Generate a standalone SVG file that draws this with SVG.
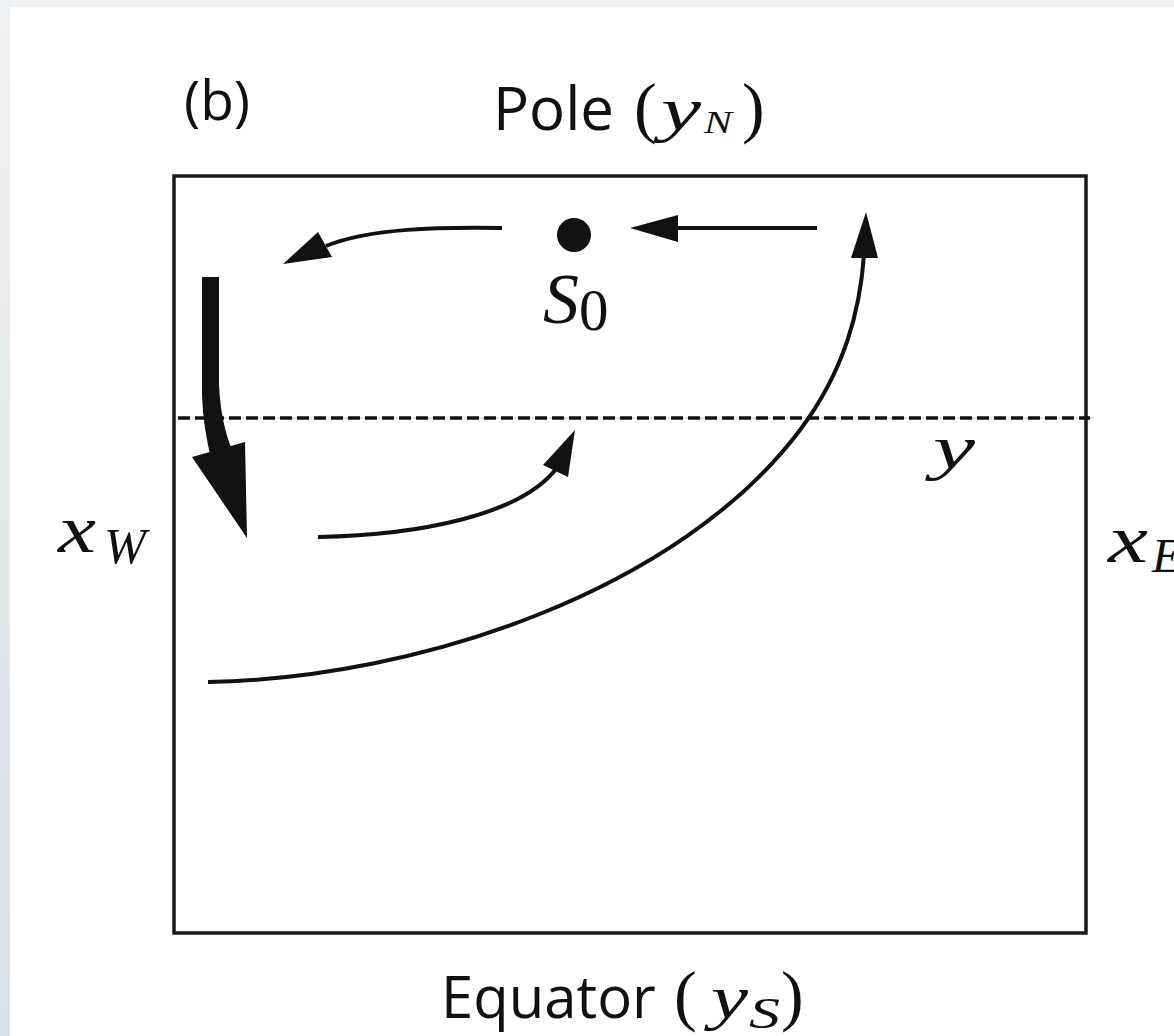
<svg xmlns="http://www.w3.org/2000/svg" width="1174" height="1036" viewBox="0 0 1174 1036">
  <defs>
    <linearGradient id="leftband" x1="0" y1="0" x2="0" y2="1">
      <stop offset="0" stop-color="#edf1f4"/>
      <stop offset="1" stop-color="#d6e1e6"/>
    </linearGradient>
    <style>
      .sans { font-family: "Open Sans", "Noto Sans", "Liberation Sans", sans-serif; fill: #111; }
      .math { font-family: "Liberation Serif", "DejaVu Serif", serif; font-style: italic; fill: #111; }
      .up { font-family: "Liberation Serif", "DejaVu Serif", serif; fill: #111; }
      .thin { fill: none; stroke: #111; stroke-width: 4; stroke-linecap: butt; }
      .head { fill: #111; stroke: none; }
    </style>
  </defs>

  <rect x="0" y="0" width="1174" height="1036" fill="#ffffff"/>
  <rect x="0" y="0" width="1174" height="7" fill="#eef2f5"/>
  <rect x="0" y="0" width="10" height="1036" fill="url(#leftband)"/>

  <g id="frame">
    <rect x="174" y="176" width="912" height="757" fill="none" stroke="#1a1a1a" stroke-width="3.5"/>
    <line x1="176" y1="418" x2="1094" y2="418" stroke="#c8c8c8" stroke-width="1"/>
    <line x1="178" y1="418" x2="1090" y2="418" stroke="#111" stroke-width="3.5" stroke-dasharray="12 5"/>
  </g>

  <g id="label-b"><text class="sans" x="184" y="120" font-size="55">(b)</text></g>

  <g id="label-pole">
    <text class="sans" x="493" y="130" font-size="60">Pole</text>
    <text class="up" x="634" y="130" font-size="68">(</text>
    <text class="math" x="661" y="130" font-size="62" textLength="40" lengthAdjust="spacingAndGlyphs">y</text>
    <text class="math" x="704" y="133" font-size="32" textLength="28" lengthAdjust="spacingAndGlyphs">N</text>
    <text class="up" x="742" y="130" font-size="68">)</text>
  </g>

  <g id="label-equator">
    <text class="sans" x="441" y="1018" font-size="58">Equator</text>
    <text class="up" x="674" y="1018" font-size="68">(</text>
    <text class="math" x="711" y="1018" font-size="62" textLength="37" lengthAdjust="spacingAndGlyphs">y</text>
    <text class="math" x="749" y="1028" font-size="44" textLength="31" lengthAdjust="spacingAndGlyphs">S</text>
    <text class="up" x="781" y="1018" font-size="68">)</text>
  </g>

  <g id="label-xw">
    <text class="math" x="58" y="552" font-size="68" textLength="38" lengthAdjust="spacingAndGlyphs">x</text>
    <text class="math" x="104" y="563" font-size="50" textLength="42" lengthAdjust="spacingAndGlyphs">W</text>
  </g>

  <g id="label-xe">
    <text class="math" x="1108" y="562" font-size="68" textLength="40" lengthAdjust="spacingAndGlyphs">x</text>
    <text class="math" x="1152" y="572" font-size="48">E</text>
  </g>

  <g id="label-y"><text class="math" x="933" y="468" font-size="62" textLength="42" lengthAdjust="spacingAndGlyphs">y</text></g>

  <g id="source-s0">
    <circle cx="574" cy="235" r="17" fill="#111"/>
    <text class="math" x="543" y="323" font-size="72">S</text>
    <text class="up" x="579" y="330" font-size="59">0</text>
  </g>

  <g id="connectors">
    <line class="thin" x1="817" y1="228" x2="672" y2="228"/>
    <polygon class="head" points="630,228 678,215 678,242"/>

    <path class="thin" d="M502,228 C440,227 370,228 326,246"/>
    <polygon class="head" points="283,264 318,232 332,257"/>

    <path class="head" d="M202,277 L219,277 L219,385 Q221,425 233,452 L212,462 Q203,428 202,395 Z"/>
    <polygon class="head" points="192,457 245,442 247,538"/>

    <path class="thin" d="M318,537 C420,535 520,515 556,469"/>
    <polygon class="head" points="575,430 543,465 568,477"/>

    <path class="thin" d="M208,682 C420,678 680,590 800,430 C845,370 860,310 864,255"/>
    <polygon class="head" points="866,212 851,258 878,258"/>
  </g>
</svg>
